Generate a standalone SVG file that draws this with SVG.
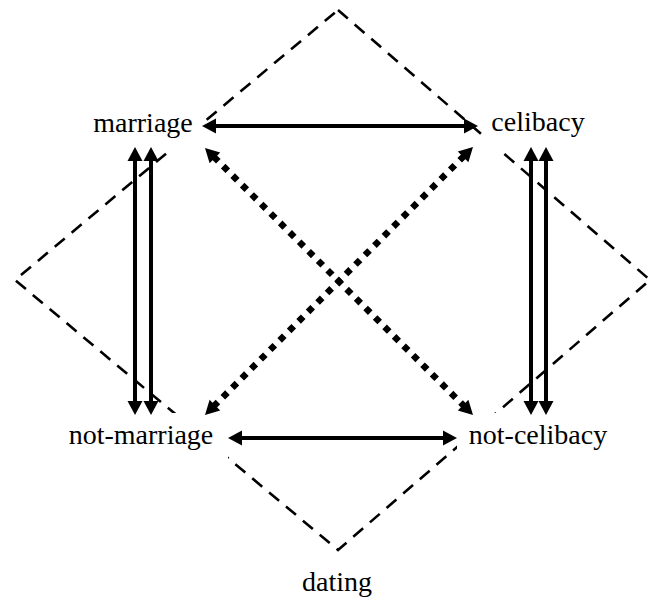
<svg xmlns="http://www.w3.org/2000/svg" width="652" height="601" viewBox="0 0 652 601">
<style>
.lbl{font-family:"Liberation Serif","Times New Roman",serif;font-size:28px;fill:#000;text-anchor:middle}
.bg{fill:#fff;stroke:none}
.dash{fill:none;stroke:#000;stroke-width:2.6;stroke-dasharray:13 9}
.solid{stroke:#000;stroke-width:4;fill:none;marker-start:url(#ah);marker-end:url(#ah)}
.dot{stroke:#000;stroke-width:6.5;fill:none;stroke-dasharray:6.5 6.9;stroke-dashoffset:0.7;marker-start:url(#ah);marker-end:url(#ah)}
</style>
<defs>
<marker id="ah" markerUnits="userSpaceOnUse" markerWidth="16" markerHeight="18" viewBox="0 -9 16 18" refX="1" refY="0" orient="auto-start-reverse" overflow="visible">
<path d="M0,-7.5 L14,0 L0,7.5 Z" fill="#000"/>
</marker>
</defs>
<rect width="652" height="601" fill="#fff"/>
<g id="frame">
<path class="dash" d="M338,10 L650,280 L338,550 L15,280 Z"/>
</g>
<g id="marriage"><rect class="bg" x="84" y="103" width="122" height="47"/><text class="lbl" x="143" y="132">marriage</text></g>
<g id="celibacy"><rect class="bg" x="482" y="103" width="113" height="47"/><text class="lbl" x="538" y="131">celibacy</text></g>
<g id="not-marriage"><rect class="bg" x="59" y="413" width="169" height="49"/><text class="lbl" x="141" y="444">not-marriage</text></g>
<g id="not-celibacy"><rect class="bg" x="457" y="413" width="160" height="49"/><text class="lbl" x="538" y="444">not-celibacy</text></g>
<g id="dating"><text class="lbl" x="337" y="591">dating</text></g>
<g id="connectors">
<line class="solid" x1="215" y1="126" x2="465" y2="126"/>
<line class="solid" x1="241" y1="438" x2="444" y2="438"/>
<line class="solid" x1="135" y1="160" x2="135" y2="402"/>
<line class="solid" x1="151" y1="160" x2="151" y2="402"/>
<line class="solid" x1="531" y1="160" x2="531" y2="402"/>
<line class="solid" x1="546" y1="160" x2="546" y2="402"/>
<line class="dot" x1="214.2" y1="157.2" x2="463.8" y2="405.8"/>
<line class="dot" x1="463.8" y1="156.2" x2="214.2" y2="405.8"/>
</g>
</svg>
